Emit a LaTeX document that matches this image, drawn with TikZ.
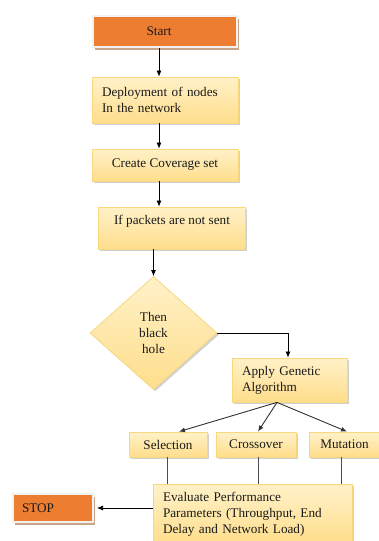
\documentclass[tikz,border=0pt]{standalone}
\usepackage{fontspec}
\setmainfont{Liberation Serif}
\usetikzlibrary{arrows.meta,shapes.geometric,shadows}

\definecolor{boxline}{HTML}{F8D77F}
\definecolor{boxtop}{HTML}{FFF1C8}
\definecolor{boxmid}{HTML}{FFFCF2}
\definecolor{boxbot}{HTML}{FFDE8C}
\definecolor{termfill}{HTML}{ED7D31}
\definecolor{termframe}{HTML}{F2F2F2}
\definecolor{termshadow}{HTML}{C9A486}
\definecolor{txt}{HTML}{1A1A1A}

\tikzset{
  every node/.style={font=\fontsize{13.2}{15.8}\selectfont, text=txt},
  procbox/.style={draw=boxline, line width=0.8pt,
    top color=boxtop, middle color=boxmid, bottom color=boxbot,
    drop shadow={shadow xshift=1.8pt, shadow yshift=-1.8pt, fill=black!30, opacity=0.6},
    inner sep=0pt},
  leftbox/.style={procbox, align=left, inner xsep=10pt},
  termbox/.style={draw=termframe, line width=2pt, fill=termfill,
    drop shadow={shadow xshift=1.5pt, shadow yshift=-3pt, fill=termshadow, opacity=1},
    inner sep=0pt},
  flow/.style={draw=black, line width=0.7pt, -{Latex[length=6pt,width=5pt]}},
  branch/.style={draw=black!80, line width=0.9pt, -{Latex[length=6pt,width=5pt]}},
  link/.style={draw=black!70, line width=0.9pt},
}

\begin{document}
\begin{tikzpicture}[x=1pt, y=-1pt]
  \useasboundingbox (0,0) rectangle (378,541);

  % terminals
  \node[termbox, minimum width=144pt, minimum height=31pt] (start) at (165,31.5) {\hspace*{-12pt}Start};
  \node[termbox, minimum width=80pt, minimum height=28pt, align=left, text width=62pt] (stop) at (53,508) {STOP};

  % main column of process boxes
  \node[leftbox, minimum width=146pt, minimum height=46pt, text width=126pt] (deploy) at (165,100)
    {Deployment of nodes\\In the network};
  \node[procbox, minimum width=146pt, minimum height=32pt] (cover) at (165,165) {Create Coverage set};
  \node[procbox, minimum width=147pt, minimum height=42pt] (packets) at (171.5,228) {};
  \node[anchor=base] (packetstext) at (172,224.5) {If packets are not sent};

  % decision
  \node[procbox, diamond, aspect=1.12, minimum width=127pt, minimum height=113pt, align=center]
    (hole) at (153.5,333) {Then\\black\\hole};

  % genetic algorithm
  \node[leftbox, minimum width=115pt, minimum height=44pt, text width=95pt] (apply) at (289.5,380)
    {Apply Genetic\\Algorithm};
  \node[procbox, minimum width=78pt, minimum height=25pt] (selection) at (168,444.5) {Selection};
  \node[procbox, minimum width=80pt, minimum height=25pt] (crossover) at (256,444.5) {Crossover};
  \node[procbox, minimum width=71pt, minimum height=25pt] (mutation) at (344.5,444.5) {Mutation};

  % evaluation (runs past the bottom edge)
  \node[leftbox, minimum width=199pt, minimum height=60pt, text width=179pt] (evaluate) at (252.5,514)
    {Evaluate Performance\\Parameters (Throughput, End\\Delay and Network Load)};

  % connectors
  \draw[flow] ([xshift=-6pt]start.south) -- ([xshift=-6pt]deploy.north);
  \draw[flow] ([xshift=-6pt]deploy.south) -- ([xshift=-6pt]cover.north);
  \draw[flow] ([xshift=-6pt]cover.south) -- ([xshift=-12.5pt]packets.north);
  \draw[flow] (packets.south -| hole.north) -- (hole.north);
  \draw[flow] (hole.east) -| ([xshift=-1.5pt]apply.north);

  \coordinate (fork) at ([xshift=-12.5pt]apply.south);
  \draw[branch] (fork) -- ([xshift=11pt]selection.north);
  \draw[branch] (fork) -- ([xshift=2pt]crossover.north);
  \draw[branch] (fork) -- ([xshift=2.5pt]mutation.north);

  \draw[link] ([xshift=-1pt]selection.south) -- ([xshift=-1pt]selection.south |- evaluate.north);
  \draw[link] ([xshift=2pt]crossover.south) -- ([xshift=2pt]crossover.south |- evaluate.north);
  \draw[link] ([xshift=-3.5pt]mutation.south) -- ([xshift=-3.5pt]mutation.south |- evaluate.north);

  \draw[flow] (evaluate.west |- stop.east) -- ([xshift=3pt]stop.east);
\end{tikzpicture}
\end{document}
